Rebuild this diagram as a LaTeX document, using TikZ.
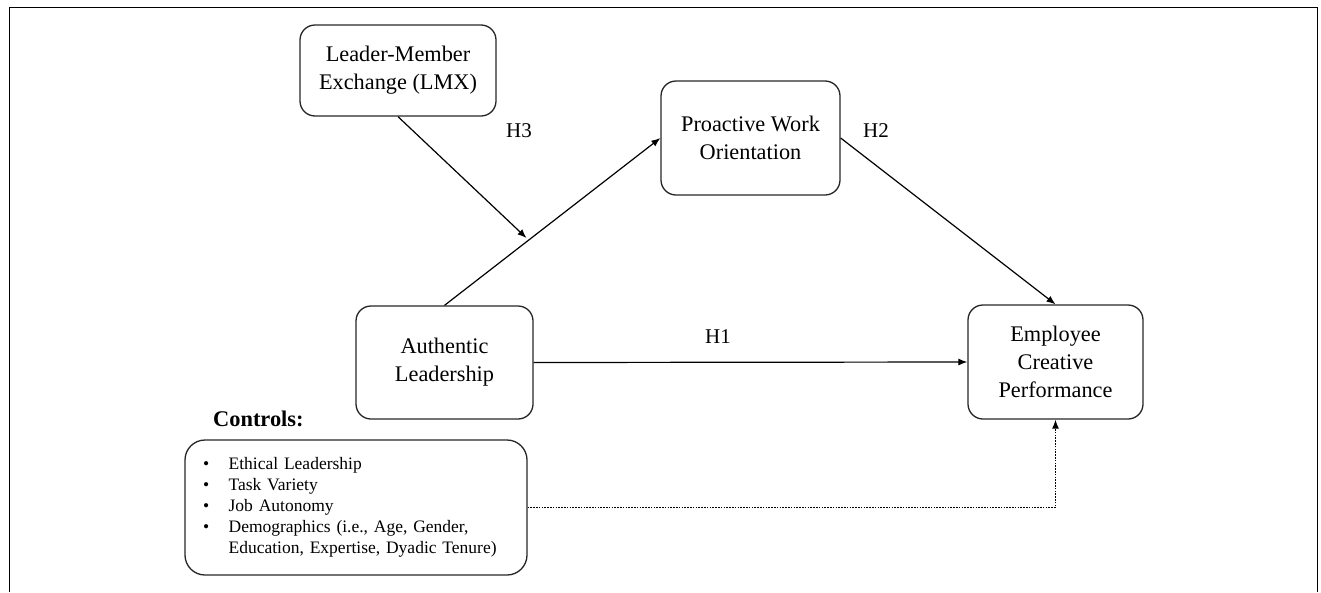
\documentclass[tikz,border=0pt]{standalone}
\usepackage{fontspec}
\setmainfont{Liberation Serif}
\usetikzlibrary{arrows.meta}
\begin{document}
\begin{tikzpicture}[x=1pt,y=-1pt,
  box/.style={draw=black!85, line width=1.3pt, rounded corners=15pt, align=center,
    font=\fontsize{22.3}{28}\selectfont, inner sep=0pt},
  lbl/.style={font=\fontsize{21}{24}\selectfont, inner sep=0pt},
  arr/.style={line width=1.2pt, -{Latex[length=9pt,width=7pt]}},
  dotarr/.style={line width=1.2pt, dash pattern=on 1.6pt off 1.2pt, -{Latex[length=9pt,width=7pt]}}]
\useasboundingbox (0,0) rectangle (1321,592);
\draw[line width=1.5pt] (9.5,592) -- (9.5,7.5) -- (1317.5,7.5) -- (1317.5,592);
\node[box, minimum width=196pt, minimum height=91pt] (lmx) at (398,70.5) {Leader-Member\\Exchange (LMX)};
\node[box, minimum width=179pt, minimum height=114pt] (pwo) at (750.5,138) {Proactive Work\\Orientation};
\node[box, minimum width=177pt, minimum height=113pt] (al) at (444.5,362.5) {Authentic\\Leadership};
\node[box, minimum width=175pt, minimum height=114pt] (ecp) at (1055.5,362) {Employee\\Creative\\Performance};
\node[font=\fontsize{22.4}{26}\selectfont\bfseries, anchor=base west, inner sep=0pt] (ctitle) at (213,426) {Controls:};
\node[draw=black!85, line width=1.3pt, rounded corners=20pt, minimum width=342pt, minimum height=135pt,
  text width=306pt, inner xsep=18pt, inner ysep=0pt, align=left, font=\fontsize{17.5}{21}\selectfont] (ctrl) at (356,507.5)
  {\begin{tabular}{@{}l@{\hspace{19.5pt}}l@{}}
  •&Ethical Leadership\\
  •&Task Variety\\
  •&Job Autonomy\\
  •&Demographics (i.e., Age, Gender,\\
  &Education, Expertise, Dyadic Tenure)
  \end{tabular}};
\draw[arr] (al.north) -- (pwo.west) coordinate[pos=0.39] (m);
\draw[arr, shorten >=3pt] (lmx.south) -- (m);
\draw[arr] (pwo.east) -- (ecp.north);
\draw[arr] (al.east) -- (ecp.west);
\draw[dotarr] (ctrl.east) -| (ecp.south);
\node[lbl] (h3) at (519,131) {H3};
\node[lbl] (h2) at (876,131) {H2};
\node[lbl] (h1) at (718,337) {H1};
\end{tikzpicture}
\end{document}
